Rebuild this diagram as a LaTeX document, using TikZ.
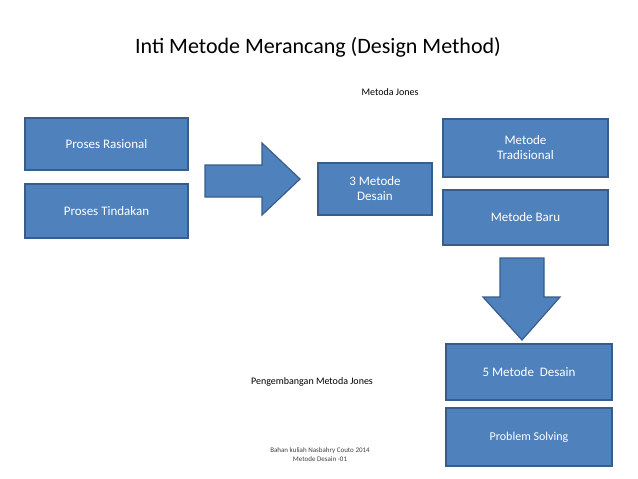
\documentclass[tikz,border=0pt]{standalone}
\usepackage{fontspec}
\setmainfont{Carlito}
\definecolor{bfill}{HTML}{4F81BD}
\definecolor{bdraw}{HTML}{385D8A}
\begin{document}
\begin{tikzpicture}[x=1pt,y=-1pt,
  bx/.style={draw=bdraw,line width=1.2pt,fill=bfill,text=white,align=center,font=\fontsize{13}{15}\selectfont,inner sep=0pt},
  ar/.style={draw=bdraw,line width=1.2pt,fill=bfill}]
\useasboundingbox (0,0) rectangle (638,479);
\node[font=\fontsize{22}{26}\selectfont] (title) at (318,47) {Inti Metode Merancang (Design Method)};
\node[bx,minimum width=163pt,minimum height=52pt] (pr) at (106.5,144) {Proses Rasional};
\node[bx,minimum width=163pt,minimum height=54pt] (pt) at (106.5,211) {Proses Tindakan};
\draw[ar] (205,165) -- (262,165) -- (262,143) -- (300,179) -- (262,215) -- (262,197) -- (205,197) -- cycle;
\node[bx,minimum width=114pt,minimum height=52pt] (m3) at (375,189) {3 Metode\\Desain};
\node[bx,minimum width=165pt,minimum height=58pt] (mt) at (525.5,148) {Metode\\Tradisional};
\node[bx,minimum width=165pt,minimum height=55pt] (mb) at (525.5,217.5) {Metode Baru};
\draw[ar] (500,258) -- (544,258) -- (544,297) -- (560,297) -- (522,340) -- (483,297) -- (500,297) -- cycle;
\node[bx,minimum width=166pt,minimum height=56pt] (m5) at (529,372) {5 Metode~~Desain};
\node[bx,minimum width=166pt,minimum height=58pt,font=\fontsize{12}{14}\selectfont] (ps) at (529,437) {Problem Solving};
\node[font=\fontsize{10}{12}\selectfont] (mj) at (390,92) {Metoda Jones};
\node[font=\fontsize{10}{12}\selectfont] (pmj) at (312,382) {Pengembangan Metoda Jones};
\node[font=\fontsize{7}{9}\selectfont,align=center,text=black!75] (ft) at (320,455) {Bahan kuliah Nasbahry Couto 2014\\Metode Desain -01};
\end{tikzpicture}
\end{document}
